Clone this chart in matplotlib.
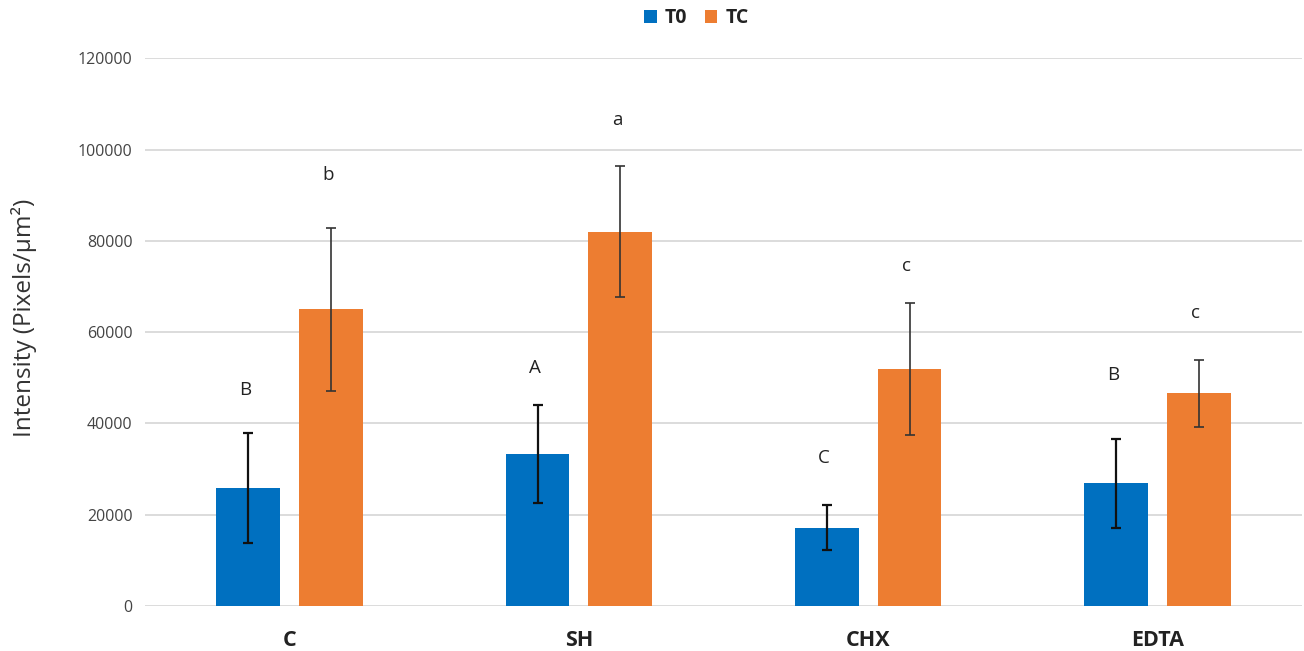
import matplotlib
matplotlib.use("Agg")
import matplotlib.pyplot as plt
import numpy as np
from matplotlib.patches import Patch

categories = ["C", "SH", "CHX", "EDTA"]
series_names = ["T0", "TC"]
t0_values = [25900, 33300, 17200, 26900]
t0_errors = [12000, 10800, 5000, 9700]
tc_values = [65000, 82000, 51900, 46600]
tc_errors = [17900, 14300, 14500, 7300]
t0_letters = ["B", "A", "C", "B"]
tc_letters = ["b", "a", "c", "c"]
t0_letter_y = [47300, 52100, 32400, 50600]
tc_letter_y = [94400, 106500, 74500, 64200]
yticks = [0, 20000, 40000, 60000, 80000, 100000, 120000]

blue = "#0070C0"
orange = "#ED7D31"
font = "Open Sans"

fig = plt.figure(figsize=(13.04, 6.51), dpi=100)
ax = fig.add_axes([0.1112, 0.0691, 0.8873, 0.8413])

x = np.arange(len(categories))
w = 0.22
off = 0.143
ax.bar(x - off, t0_values, w, color=blue, zorder=3)
ax.bar(x + off, tc_values, w, color=orange, zorder=3)
ax.errorbar(x - off, t0_values, yerr=t0_errors, fmt="none", ecolor="#111111",
            elinewidth=1.6, capsize=3.5, capthick=1.6, zorder=4)
ax.errorbar(x + off, tc_values, yerr=tc_errors, fmt="none", ecolor="#333333",
            elinewidth=1.2, capsize=3.5, capthick=1.2, zorder=4)

for i in range(len(categories)):
    ax.text(x[i] - off - 0.01, t0_letter_y[i], t0_letters[i], ha="center", va="center",
            fontsize=13.5, family=font, color="#222222")
    ax.text(x[i] + off - 0.01, tc_letter_y[i], tc_letters[i], ha="center", va="center",
            fontsize=13.5, family=font, color="#222222")

ax.set_xlim(-0.5, 3.5)
ax.set_ylim(0, 120000)
ax.set_yticks(yticks)
ax.set_yticklabels([str(v) for v in yticks], fontsize=11.5, family=font, color="#444444")
ax.set_xticks(x)
ax.set_xticklabels(categories, fontsize=15.5, family=font, fontweight="bold", color="#222222")
ax.tick_params(axis="both", length=0)
ax.tick_params(axis="y", pad=9)
ax.tick_params(axis="x", pad=17)
ax.yaxis.grid(True, color="#D9D9D9", linewidth=1.3, zorder=0)
for s in ax.spines.values():
    s.set_visible(False)
ax.set_ylabel("Intensity (Pixels/\u00b5m\u00b2)", fontsize=17.5, family=font, color="#333333")
ax.yaxis.set_label_coords(-0.093, 0.527)

handles = [Patch(facecolor=blue), Patch(facecolor=orange)]
leg = fig.legend(handles, series_names, loc="center", bbox_to_anchor=(0.534, 0.972), ncol=2,
                 frameon=False, prop={"family": font, "weight": "bold", "size": 14},
                 handlelength=0.65, handleheight=0.65, handletextpad=0.4, columnspacing=0.9)
for t in leg.get_texts():
    t.set_color("#222222")

fig.savefig("out.png", dpi=100, facecolor="white")
